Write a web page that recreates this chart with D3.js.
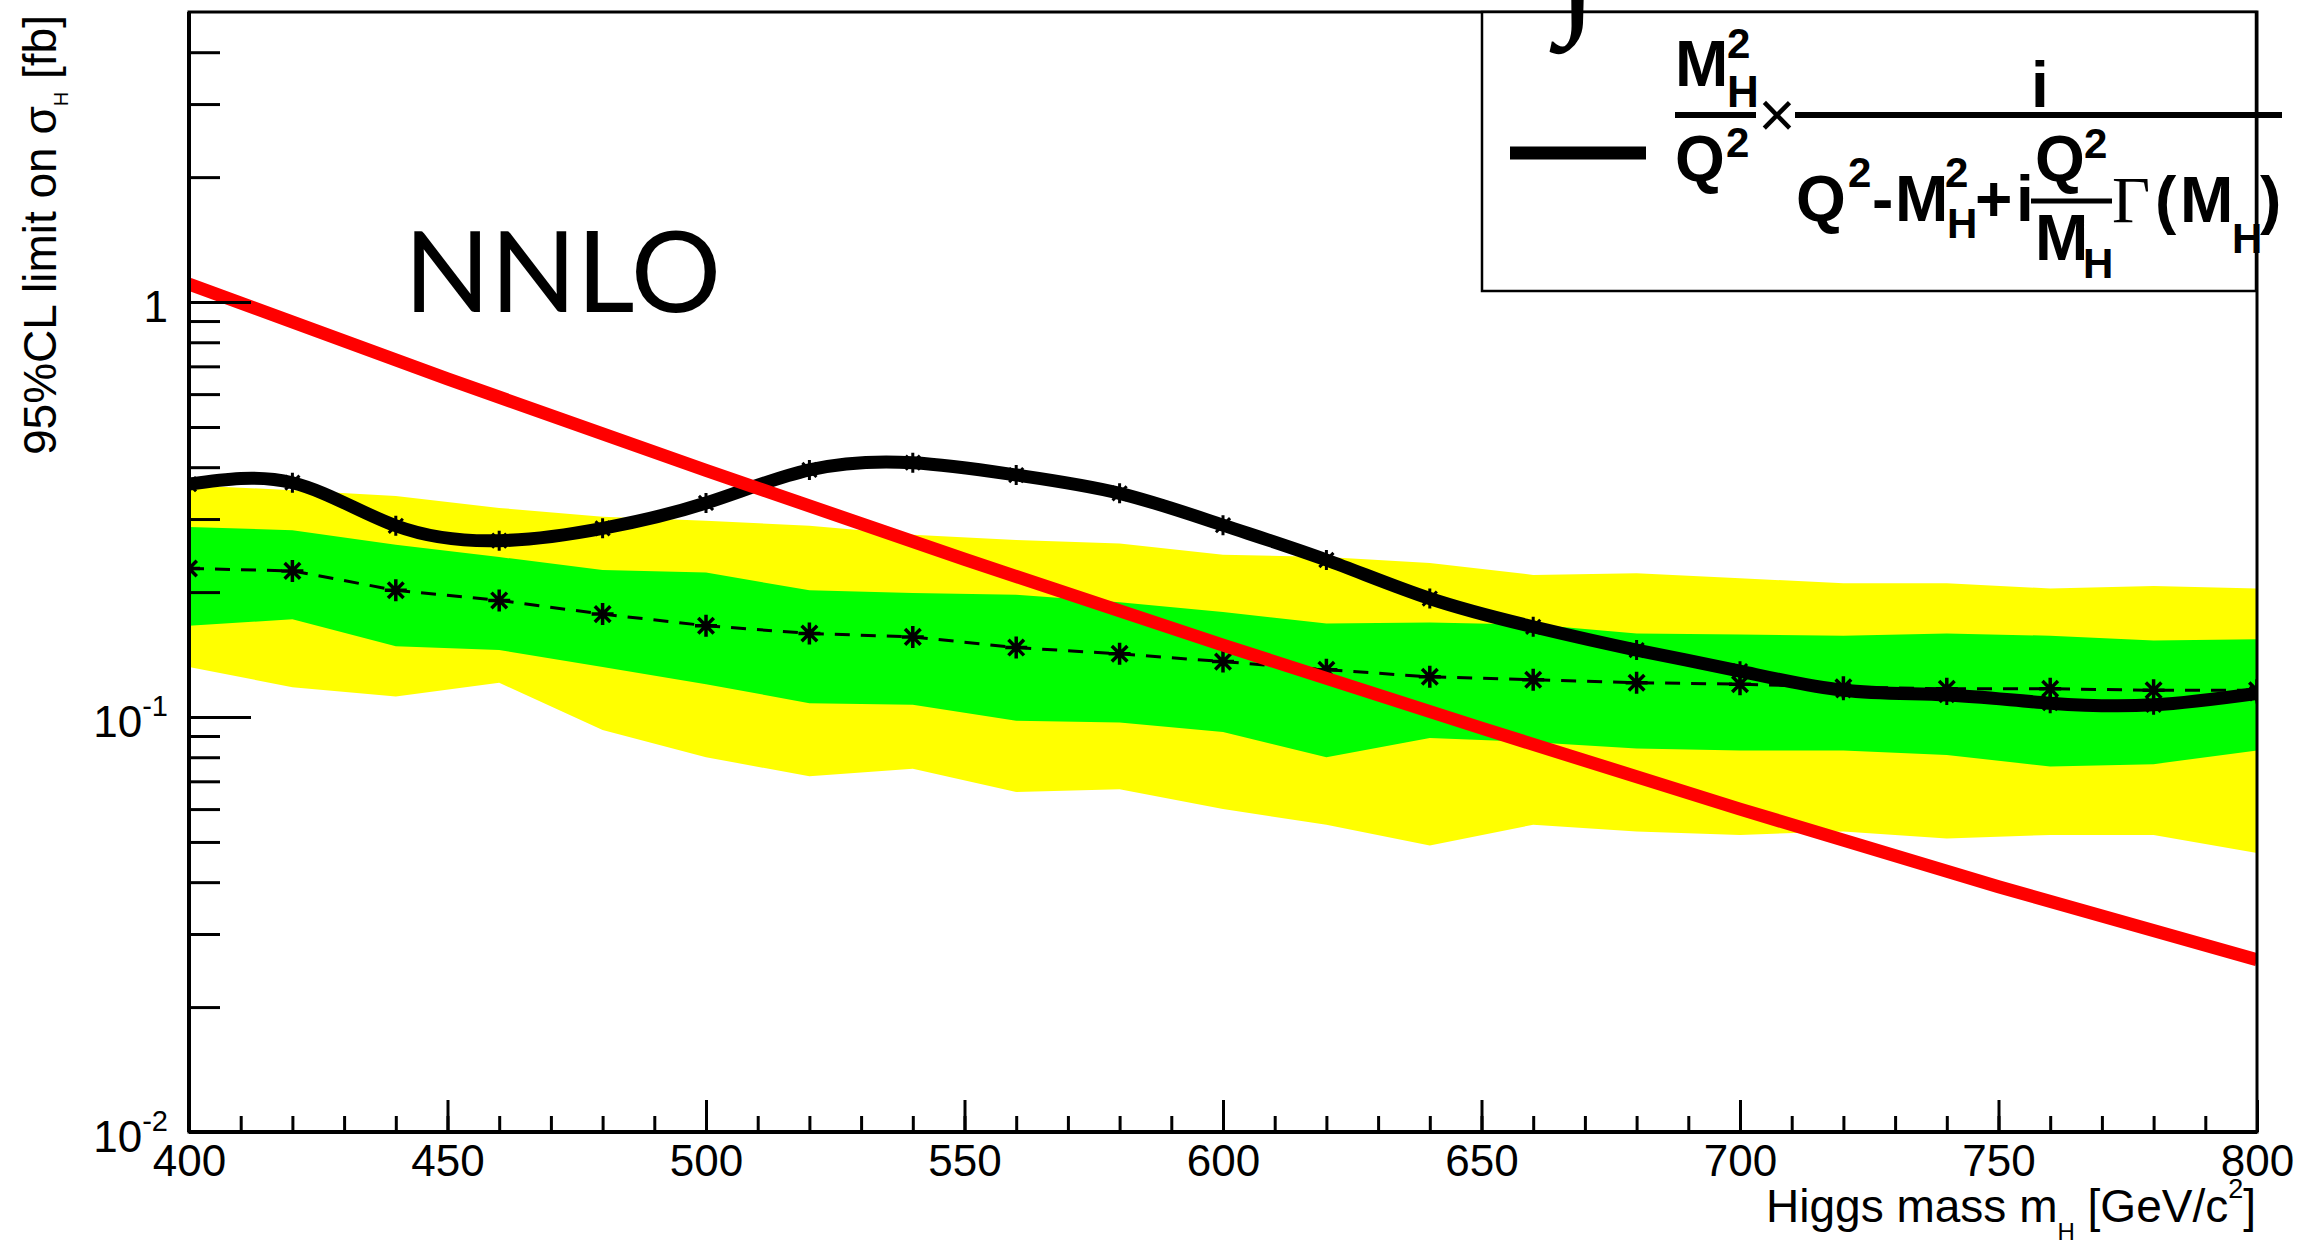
<!DOCTYPE html>
<html><head><meta charset="utf-8">
<script src="https://cdn.jsdelivr.net/npm/d3@7"></script>
<style>body{margin:0;background:#fff;} svg{display:block;}</style>
</head><body>
<svg id="chart" width="2312" height="1243"></svg>
<script>
// ---------------- data ----------------
const masses   = [400,420,440,460,480,500,520,540,560,580,600,620,640,660,680,700,720,740,760,780,800];
const observed = [0.364,0.367,0.289,0.266,0.285,0.328,0.394,0.410,0.383,0.346,0.290,0.239,0.193,0.165,0.145,0.129,0.116,0.113,0.108,0.107,0.114];
const expected = [0.228,0.225,0.202,0.191,0.177,0.166,0.159,0.156,0.147,0.142,0.136,0.130,0.125,0.123,0.121,0.120,0.118,0.117,0.117,0.116,0.116];
const plus1    = [0.287,0.282,0.260,0.243,0.226,0.223,0.202,0.199,0.197,0.189,0.179,0.168,0.169,0.167,0.159,0.158,0.157,0.159,0.157,0.153,0.154];
const minus1   = [0.166,0.172,0.148,0.145,0.132,0.120,0.108,0.107,0.098,0.097,0.092,0.080,0.089,0.087,0.084,0.083,0.083,0.081,0.076,0.077,0.083];
const plus2    = [0.362,0.352,0.341,0.319,0.304,0.297,0.289,0.275,0.267,0.262,0.246,0.243,0.235,0.220,0.222,0.216,0.210,0.210,0.204,0.207,0.204];
const minus2   = [0.132,0.118,0.112,0.121,0.093,0.080,0.072,0.075,0.066,0.067,0.060,0.055,0.049,0.055,0.053,0.052,0.053,0.051,0.052,0.052,0.047];
const theoryMass = [400,450,500,550,600,650,700,750,800];
const theory     = [1.105,0.653,0.393,0.240,0.149,0.094,0.060,0.039,0.026];
const xMajorTicks = [400,450,500,550,600,650,700,750,800];
const xMinorTicks = d3.range(400, 801, 10);
const yMajorTicks = [0.01,0.1,1];
const yMajorLabels = [["10","-2"],["10","-1"],["1",""]];
const yMinorTicks = [0.02,0.03,0.04,0.05,0.06,0.07,0.08,0.09,0.2,0.3,0.4,0.5,0.6,0.7,0.8,0.9,2,3,4];

// ---------------- layout ----------------
const L = 189, R = 2257, T = 12, B = 1132;
const svg = d3.select("#chart");
const x = d3.scaleLinear().domain([400,800]).range([L,R]);
const y = d3.scaleLog().domain([0.01,5]).range([B,T]);
const FONT = "'Liberation Sans', Arial, Helvetica, sans-serif";

const rows = masses.map((m,i)=>({m, obs:observed[i], exp:expected[i], p1:plus1[i], m1:minus1[i], p2:plus2[i], m2:minus2[i]}));

svg.append("defs").append("clipPath").attr("id","plotclip")
  .append("rect").attr("x",L).attr("y",T).attr("width",R-L).attr("height",B-T);
const plot = svg.append("g").attr("clip-path","url(#plotclip)");

// bands
plot.append("path").datum(rows)
  .attr("d", d3.area().x(d=>x(d.m)).y0(d=>y(d.m2)).y1(d=>y(d.p2)))
  .attr("fill","#ffff00");
plot.append("path").datum(rows)
  .attr("d", d3.area().x(d=>x(d.m)).y0(d=>y(d.m1)).y1(d=>y(d.p1)))
  .attr("fill","#00ff00");

// expected dashed
plot.append("path").datum(rows)
  .attr("d", d3.line().x(d=>x(d.m)).y(d=>y(d.exp)))
  .attr("fill","none").attr("stroke","#000").attr("stroke-width",3)
  .attr("stroke-dasharray","15,11");

function star(s){ const a=s*0.7071;
  return `M${-s},0L${s},0M0,${-s}L0,${s}M${-a},${-a}L${a},${a}M${-a},${a}L${a},${-a}`; }

plot.append("g").selectAll("path").data(rows).join("path")
  .attr("transform", d=>`translate(${x(d.m)},${y(d.exp)})`)
  .attr("d", star(11)).attr("stroke","#000").attr("stroke-width",3.5).attr("fill","none");

// observed
plot.append("g").selectAll("path").data(rows).join("path")
  .attr("transform", d=>`translate(${x(d.m)},${y(d.obs)})`)
  .attr("d", star(10)).attr("stroke","#000").attr("stroke-width",3).attr("fill","none");
plot.append("path").datum(rows)
  .attr("d", d3.line().curve(d3.curveNatural).x(d=>x(d.m)).y(d=>y(d.obs)))
  .attr("fill","none").attr("stroke","#000").attr("stroke-width",13);

// theory (red)
plot.append("path").datum(theoryMass.map((m,i)=>({m, v:theory[i]})))
  .attr("d", d3.line().curve(d3.curveNatural).x(d=>x(d.m)).y(d=>y(d.v)))
  .attr("fill","none").attr("stroke","#ff0000").attr("stroke-width",13);

// ---------------- axes ----------------
const gxMinor = svg.append("g").attr("transform",`translate(0,${B})`)
  .call(d3.axisBottom(x).tickValues(xMinorTicks).tickSize(-16).tickFormat(""));
const gx = svg.append("g").attr("transform",`translate(0,${B})`)
  .call(d3.axisBottom(x).tickValues(xMajorTicks).tickSize(-32).tickPadding(13).tickFormat(d3.format("d")));
[gxMinor,gx].forEach(g=>{ g.select(".domain").remove(); g.selectAll("line").attr("stroke","#000").attr("stroke-width",3); });
gx.selectAll("text").attr("font-family",FONT).attr("font-size",44).attr("fill","#000");

const gyMinor = svg.append("g").attr("transform",`translate(${L},0)`)
  .call(d3.axisLeft(y).tickValues(yMinorTicks).tickSize(-31).tickFormat(""));
const gy = svg.append("g").attr("transform",`translate(${L},0)`)
  .call(d3.axisLeft(y).tickValues(yMajorTicks).tickSize(-62).tickPadding(21).tickFormat(""));
[gyMinor,gy].forEach(g=>{ g.select(".domain").remove(); g.selectAll("line").attr("stroke","#000").attr("stroke-width",3); });
gy.selectAll("text").each(function(d,i){
  const t = d3.select(this).attr("font-family",FONT).attr("font-size",44).attr("fill","#000").attr("dy","0.45em");
  const lab = yMajorLabels[i];
  t.append("tspan").text(lab[0]);
  if (lab[1]) t.append("tspan").attr("font-size",29).attr("dy",-21).text(lab[1]);
});

// frame
svg.append("rect").attr("x",L).attr("y",T).attr("width",R-L).attr("height",B-T)
  .attr("fill","none").attr("stroke","#000").attr("stroke-width",3);
svg.append("line").attr("x1",L).attr("x2",L).attr("y1",T).attr("y2",B).attr("stroke","#000").attr("stroke-width",4);
svg.append("line").attr("x1",L).attr("x2",R).attr("y1",B).attr("y2",B).attr("stroke","#000").attr("stroke-width",4);

// axis titles
const xt = svg.append("text").attr("x",2256).attr("y",1222).attr("text-anchor","end")
  .attr("font-family",FONT).attr("font-size",46).attr("fill","#000");
xt.append("tspan").text("Higgs mass m");
xt.append("tspan").attr("font-size",24).attr("dy",18).text("H");
xt.append("tspan").attr("dy",-18).text(" [GeV/c");
xt.append("tspan").attr("font-size",27).attr("dy",-24).text("2");
xt.append("tspan").attr("dy",24).text("]");

const yt = svg.append("text").attr("transform","translate(56,15) rotate(-90)").attr("text-anchor","end")
  .attr("font-family",FONT).attr("font-size",46).attr("fill","#000");
yt.append("tspan").text("95%CL limit on σ");
yt.append("tspan").attr("font-size",20).attr("dy",12).text("H");
yt.append("tspan").attr("dy",-12).text(" [fb]");

// NNLO label
svg.append("text").attr("x",404).attr("y",312).attr("font-family","Lato, 'Open Sans', sans-serif")
  .attr("font-size",113).attr("fill","#000").text("NNLO");

// ---------------- legend ----------------
const lg = svg.append("g");
lg.append("rect").attr("x",1482).attr("y",12).attr("width",774).attr("height",279)
  .attr("fill","#fff").attr("stroke","#000").attr("stroke-width",2.5);
lg.append("line").attr("x1",1510).attr("x2",1646).attr("y1",153).attr("y2",153)
  .attr("stroke","#000").attr("stroke-width",13);
// header glyph, clipped by the top edge as in the reference
svg.append("text").attr("x",1556).attr("y",14).attr("font-family","'Liberation Serif', serif")
  .attr("font-style","italic").attr("font-weight","bold").attr("font-size",150).attr("fill","#000").text("∫");

const BF = "'Liberation Sans', Arial, sans-serif";
function tx(xp, yp, s, size, opts={}){
  return lg.append("text").attr("x",xp).attr("y",yp).attr("font-family",opts.family||BF)
    .attr("font-weight",opts.weight||"bold").attr("font-size",size).attr("fill","#000")
    .attr("text-anchor",opts.anchor||"start").text(s);
}
function bar(x1,x2,yy,w){ lg.append("line").attr("x1",x1).attr("x2",x2).attr("y1",yy).attr("y2",yy).attr("stroke","#000").attr("stroke-width",w); }
// M_H^2 / Q^2
tx(1675,86,"M",64); tx(1727,58,"2",42); tx(1727,107,"H",44);
bar(1675,1756,115,6);
tx(1675,181,"Q",64); tx(1726,157,"2",42);
tx(1777,137,"×",64,{weight:"normal",anchor:"middle"});
bar(1795,2282,115,6);
tx(2040,107,"i",64,{anchor:"middle"});
// denominator
tx(1796,221,"Q",64); tx(1848,187,"2",42);
tx(1872,221,"-",64);
tx(1895,221,"M",64); tx(1945,187,"2",42); tx(1947,238,"H",42);
tx(1975,221,"+",64);
tx(2016,221,"i",64);
bar(2031,2112,201,5);
tx(2035,181,"Q",64); tx(2084,158,"2",42);
tx(2035,260,"M",64); tx(2083,278,"H",42);
tx(2112,222,"Γ",66,{family:"'Liberation Serif', serif",weight:"normal"});
tx(2155,222,"(",64);
tx(2180,222,"M",64); tx(2232,253,"H",42);
tx(2260,222,")",64);
</script>
</body></html>
